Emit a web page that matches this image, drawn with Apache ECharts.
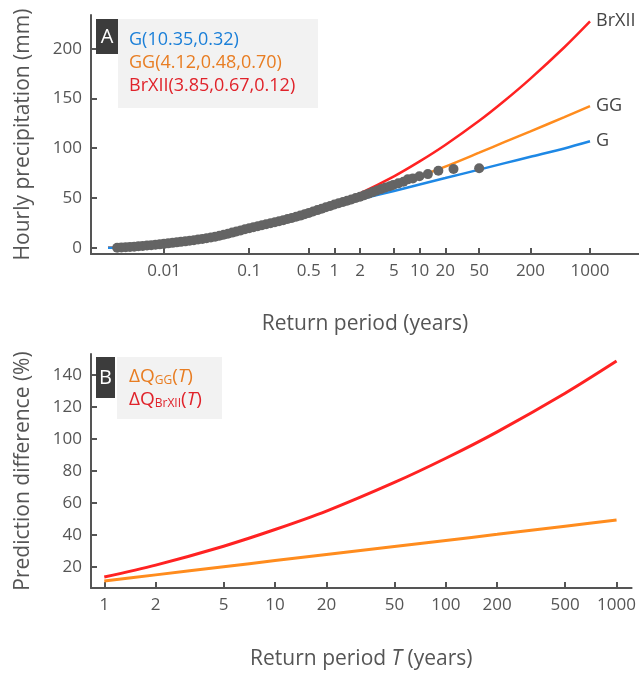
<!DOCTYPE html>
<html><head><meta charset="utf-8">
<script src="https://cdn.jsdelivr.net/npm/echarts@6.0.0/dist/echarts.min.js"></script>
<style>html,body{margin:0;padding:0;background:#fff}#c{width:639px;height:673px}</style>
</head><body><div id="c"></div>
<script>
// ---------- Panel A data ----------
const tickLabelsA = [0.01, 0.1, 0.5, 1, 2, 5, 10, 20, 50, 200, 1000];
const yTicksA = [0, 50, 100, 150, 200];
// observed points (return period in years, hourly precipitation mm)
const obsT = [0.00282,0.00316,0.00355,0.00398,0.00447,0.00501,0.00562,0.00631,0.00708,0.00794,0.00891,
  0.0100,0.0112,0.0126,0.0141,0.0158,0.0178,0.0200,0.0224,0.0251,0.0282,0.0316,0.0355,0.0398,0.0447,0.0501,0.0562,0.0631,0.0708,0.0794,0.0891,
  0.100,0.112,0.126,0.141,0.158,0.178,0.200,0.224,0.251,0.282,0.316,0.355,0.398,0.447,0.501,0.562,0.631,0.708,0.794,0.891,
  1.00,1.12,1.26,1.41,1.58,1.78,2.00,2.24,2.51,2.82,3.16,3.55,3.98,4.47,
  4.90,5.62,6.46,7.26,8.32,9.95,12.5,16.6,25,50];
const obsP = [0.0,0.2,0.5,0.8,1.1,1.5,1.8,2.2,2.6,3.0,3.4,
  3.9,4.4,4.9,5.4,5.9,6.4,7.0,7.6,8.2,8.9,9.6,10.3,11.1,12.0,13.0,14.1,15.2,16.3,17.4,18.5,
  19.6,20.6,21.6,22.6,23.6,24.6,25.6,26.6,27.7,28.8,29.9,31.1,32.3,33.6,35.0,36.4,37.8,39.2,40.6,42.0,
  43.4,44.7,46.0,47.2,48.5,49.9,51.3,52.8,54.3,55.9,57.5,59.0,60.5,61.8,
  63.0,64.7,66.3,68.7,69.7,71.8,74.0,77.4,79.1,79.8];
// fitted curves
const curveT  = [0.0022,0.003,0.005,0.01,0.02,0.05,0.1,0.2,0.5,1,2,5,10,20,50,100,200,500,1000];
const gVals   = [0,0.2,1.4,3.8,6.8,13.2,19.6,25.6,35.0,42.3,48.7,57.1,63.6,70.0,78.5,85.0,91.4,99.8,107.0];
const ggVals  = [0,0.2,1.4,3.8,6.8,13.4,19.8,26.0,36.0,44.5,52.5,63.5,72.0,81.5,95.5,106.3,117.0,131.3,142.4];
const brVals  = [0,0.2,1.4,3.8,6.8,13.4,19.8,26.2,36.0,43.6,54.7,71.8,86.8,103.3,127.6,148.0,170.0,201.5,227.5];
// ---------- Panel B data ----------
const tickLabelsB = [1, 2, 5, 10, 20, 50, 100, 200, 500, 1000];
const yTicksB = [20, 40, 60, 80, 100, 120, 140];
const diffT   = [1, 2, 5, 10, 20, 50, 100, 200, 500, 1000];
const dGG     = [11.3, 15.1, 20.2, 24.0, 27.8, 32.8, 36.6, 40.4, 45.5, 49.3];
const dBrXII  = [13.8, 21.2, 33.0, 43.4, 54.9, 72.8, 87.9, 104.4, 128.5, 148.6];

const FONT = '"Open Sans", "Noto Sans", sans-serif';
const AX = '#555555';
const BLUE = '#1e88e5', ORANGE = '#ff8c1e', RED = '#ff2222';

function pairs(xs, ys) { return xs.map((x, i) => [x, ys[i]]); }
function nearestLabel(list) {
  return function (v) {
    let best = list[0], bd = Infinity;
    for (const t of list) { const d = Math.abs(Math.log10(t) - Math.log10(v)); if (d < bd) { bd = d; best = t; } }
    return String(best);
  };
}
function xAxisCommon(list, extra) {
  return Object.assign({
    type: 'log', logBase: 10, nameLocation: 'middle',
    nameTextStyle: { fontFamily: FONT, fontSize: 21, color: AX },
    axisLine: { show: true, onZero: false, lineStyle: { color: AX, width: 2 } },
    axisTick: { show: true, inside: true, length: 6, customValues: list, lineStyle: { color: AX, width: 2 } },
    axisLabel: { customValues: list, formatter: nearestLabel(list), fontFamily: FONT, fontSize: 17, color: AX, margin: 9 },
    minorTick: { show: false }, splitLine: { show: false }
  }, extra);
}
function yAxisCommon(list, extra) {
  return Object.assign({
    type: 'value', nameLocation: 'middle',
    nameTextStyle: { fontFamily: FONT, fontSize: 21, color: AX },
    axisLine: { show: true, onZero: false, lineStyle: { color: AX, width: 2 } },
    axisTick: { show: true, inside: true, length: 6, customValues: list, lineStyle: { color: AX, width: 2 } },
    axisLabel: { customValues: list, fontFamily: FONT, fontSize: 17, color: AX, margin: 9 },
    splitLine: { show: false }
  }, extra);
}
function endLbl(txt) {
  return { show: true, formatter: txt, color: '#444', fontFamily: FONT, fontSize: 18, distance: 6 };
}

const chart = echarts.init(document.getElementById('c'), null, { renderer: 'canvas' });
chart.setOption({
  animation: false,
  backgroundColor: '#ffffff',
  grid: [
    { left: 91, top: 15, width: 548, height: 239 },
    { left: 91, top: 354, width: 542, height: 234 }
  ],
  xAxis: [
    xAxisCommon(tickLabelsA, { gridIndex: 0, min: 0.00139, max: 3758, name: 'Return period (years)', nameGap: 60 }),
    xAxisCommon(tickLabelsB, { gridIndex: 1, min: 0.836, max: 1225, name: 'Return period {i|T} (years)', nameGap: 61,
      nameTextStyle: { fontFamily: FONT, fontSize: 21, color: AX, rich: { i: { fontFamily: FONT, fontSize: 21, color: AX, fontStyle: 'italic' } } } })
  ],
  yAxis: [
    yAxisCommon(yTicksA, { gridIndex: 0, min: -6.3, max: 233.9, name: 'Hourly precipitation (mm)', nameGap: 57 }),
    yAxisCommon(yTicksB, { gridIndex: 1, min: 6.9, max: 153, name: 'Prediction difference (%)', nameGap: 57 })
  ],
  series: [
    { type: 'line', name: 'BrXII', xAxisIndex: 0, yAxisIndex: 0, data: pairs(curveT, brVals), smooth: 0.3, showSymbol: false,
      lineStyle: { color: RED, width: 2.5 }, endLabel: endLbl('BrXII'), z: 2 },
    { type: 'line', name: 'GG', xAxisIndex: 0, yAxisIndex: 0, data: pairs(curveT, ggVals), smooth: 0.3, showSymbol: false,
      lineStyle: { color: ORANGE, width: 2.5 }, endLabel: endLbl('GG'), z: 2 },
    { type: 'line', name: 'G', xAxisIndex: 0, yAxisIndex: 0, data: pairs(curveT, gVals), smooth: 0.3, showSymbol: false,
      lineStyle: { color: BLUE, width: 2.5 }, endLabel: endLbl('G'), z: 2 },
    { type: 'scatter', name: 'obs', xAxisIndex: 0, yAxisIndex: 0, data: pairs(obsT, obsP), symbolSize: 10,
      itemStyle: { color: '#646464', opacity: 1 }, z: 3 },
    { type: 'line', name: 'dGG', xAxisIndex: 1, yAxisIndex: 1, data: pairs(diffT, dGG), smooth: 0.3, showSymbol: false,
      lineStyle: { color: ORANGE, width: 3 } },
    { type: 'line', name: 'dBrXII', xAxisIndex: 1, yAxisIndex: 1, data: pairs(diffT, dBrXII), smooth: 0.3, showSymbol: false,
      lineStyle: { color: RED, width: 3 } }
  ],
  graphic: [
    { type: 'rect', shape: { x: 118, y: 19, width: 200, height: 89 }, style: { fill: '#f2f2f2' }, z: 10 },
    { type: 'rect', shape: { x: 96, y: 19, width: 22, height: 35 }, style: { fill: '#3c3c3c' }, z: 11 },
    { type: 'text', x: 107, y: 37, style: { text: 'A', fill: '#ffffff', font: '20px ' + FONT, align: 'center', verticalAlign: 'middle' }, z: 12 },
    { type: 'text', x: 129, y: 40, style: { text: 'G(10.35,0.32)', fill: '#1a7fd8', font: '18px ' + FONT, verticalAlign: 'middle' }, z: 12 },
    { type: 'text', x: 129, y: 63, style: { text: 'GG(4.12,0.48,0.70)', fill: '#e87d22', font: '18px ' + FONT, verticalAlign: 'middle' }, z: 12 },
    { type: 'text', x: 129, y: 86, style: { text: 'BrXII(3.85,0.67,0.12)', fill: '#e0222a', font: '18px ' + FONT, verticalAlign: 'middle' }, z: 12 },

    { type: 'rect', shape: { x: 117, y: 357, width: 105, height: 62 }, style: { fill: '#f2f2f2' }, z: 10 },
    { type: 'rect', shape: { x: 96, y: 357, width: 19, height: 41 }, style: { fill: '#3c3c3c' }, z: 11 },
    { type: 'text', x: 105.5, y: 378, style: { text: 'B', fill: '#ffffff', font: '20px ' + FONT, align: 'center', verticalAlign: 'middle' }, z: 12 },
    { type: 'text', x: 129, y: 377, style: {
        text: '{m|ΔQ}{s|GG}{m|(}{i|T}{m|)}', verticalAlign: 'middle',
        rich: { m: { fontFamily: FONT, fontSize: 19, fill: '#e87d22', verticalAlign: 'bottom' },
                i: { fontFamily: FONT, fontSize: 19, fill: '#e87d22', fontStyle: 'italic', verticalAlign: 'bottom' },
                s: { fontFamily: FONT, fontSize: 12, fill: '#e87d22', verticalAlign: 'bottom' } } }, z: 12 },
    { type: 'text', x: 129, y: 400, style: {
        text: '{m|ΔQ}{s|BrXII}{m|(}{i|T}{m|)}', verticalAlign: 'middle',
        rich: { m: { fontFamily: FONT, fontSize: 19, fill: '#e0222a', verticalAlign: 'bottom' },
                i: { fontFamily: FONT, fontSize: 19, fill: '#e0222a', fontStyle: 'italic', verticalAlign: 'bottom' },
                s: { fontFamily: FONT, fontSize: 12, fill: '#e0222a', verticalAlign: 'bottom' } } }, z: 12 }
  ]
});
</script></body></html>
